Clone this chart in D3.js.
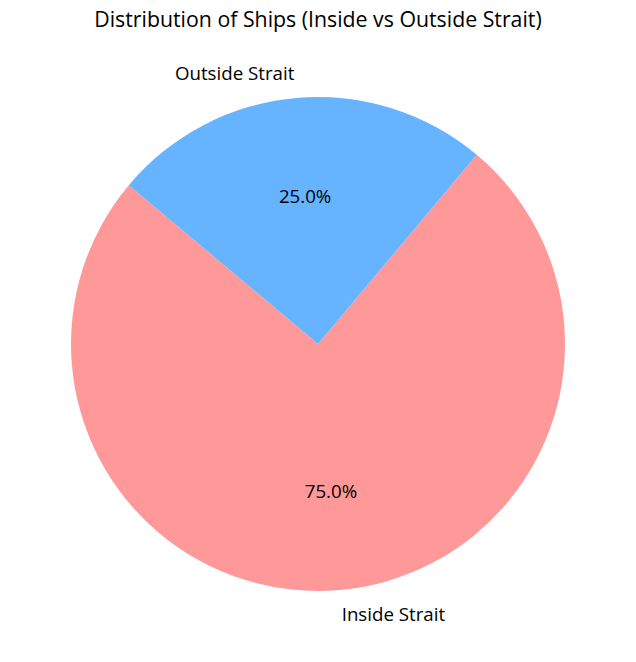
<!DOCTYPE html>
<html>
<head>
<meta charset="utf-8">
<script src="https://cdn.jsdelivr.net/npm/d3@7"></script>
<style>
  body { margin: 0; background: #fff; }
  text { font-family: "Open Sans", Roboto, sans-serif; fill: #000; }
</style>
</head>
<body>
<div class="chart"></div>
<script>
var w = 636, h = 662,
	cx = 318, cy = 344,
	r = 247;

// data
var categories = ['Inside Strait', 'Outside Strait'];
var counts = [75, 25];
var colors = ['#ff9999', '#66b3ff'];

var startDeg = 140; // matplotlib style, counter-clockwise from 3 o'clock
var toRad = Math.PI / 180;

var data = categories.map(function(c, i){
	return { name: c, value: counts[i], color: colors[i] }
});

var total = d3.sum(counts);

var pie = d3.pie()
	.sort(null)
	.value(function(d){ return d.value })
	.startAngle((90 - startDeg) * toRad)
	.endAngle((90 - startDeg - 360) * toRad);

var arc = d3.arc().innerRadius(0).outerRadius(r);

var svg = d3.select('.chart').append('svg')
	.attr('width', w)
	.attr('height', h);

svg.append('text')
	.attr('x', w / 2)
	.attr('y', 27)
	.attr('text-anchor', 'middle')
	.style('font-size', '21.3px')
	.text('Distribution of Ships (Inside vs Outside Strait)');

var g = svg.append('g')
	.attr('transform', 'translate(' + [cx, cy] + ')');

var slices = pie(data);

g.selectAll('path')
	.data(slices)
	.enter()
	.append('path')
	.attr('d', arc)
	.attr('fill', function(d){ return d.data.color });

// polar helper, d3 angle (0 at top, clockwise)
function pos(a, rr) {
	return [rr * Math.sin(a), -rr * Math.cos(a)];
}

g.selectAll('.lbl')
	.data(slices)
	.enter()
	.append('text')
	.attr('class', 'lbl')
	.each(function(d){
		var mid = (d.startAngle + d.endAngle) / 2;
		var p = pos(mid, 1.1 * r);
		d3.select(this)
			.attr('x', p[0])
			.attr('y', p[1])
			.attr('dy', '0.35em')
			.attr('text-anchor', p[0] < 0 ? 'end' : 'start');
	})
	.style('font-size', '18.7px')
	.text(function(d){ return d.data.name });

g.selectAll('.pct')
	.data(slices)
	.enter()
	.append('text')
	.attr('class', 'pct')
	.each(function(d){
		var mid = (d.startAngle + d.endAngle) / 2;
		var p = pos(mid, 0.6 * r);
		d3.select(this)
			.attr('x', p[0])
			.attr('y', p[1])
			.attr('dy', '0.35em')
			.attr('text-anchor', 'middle');
	})
	.style('font-size', '18.7px')
	.text(function(d){ return (d.value / total * 100).toFixed(1) + '%' });
</script>
</body>
</html>
